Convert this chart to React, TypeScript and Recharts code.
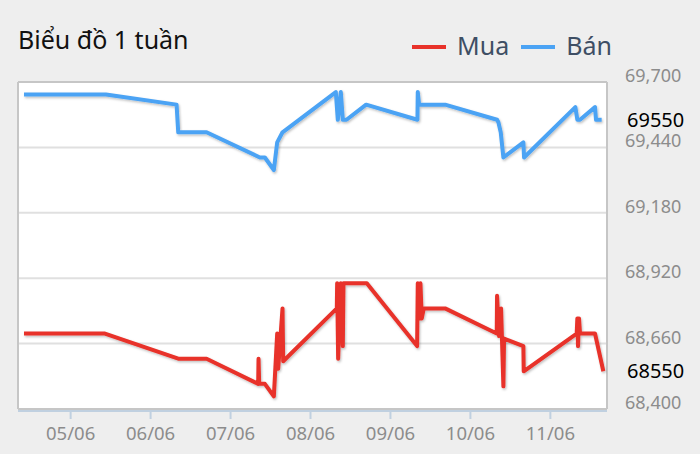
import {
  LineChart,
  Line,
  XAxis,
  YAxis,
  CartesianGrid,
  ReferenceLine,
  Legend,
} from 'recharts';

// time is hours from 05/06 00:00
const dayTicks = [0, 24, 48, 72, 96, 120, 144];
const dayLabels = ['05/06', '06/06', '07/06', '08/06', '09/06', '10/06', '11/06'];
const priceTicks = [68400, 68660, 68920, 69180, 69440, 69700];
const seriesNames = ['Mua', 'Bán'];

const muaTimes = [
  -14.0, 10.3, 32.3, 40.8, 56.3, 56.4, 56.6, 58.3, 61.0, 62.0, 62.3, 63.6, 63.8,
  79.9, 80.0, 80.3, 81.1, 81.7, 81.9, 88.9, 104.0, 104.2, 104.7, 105.0, 105.4,
  106.0, 112.4, 127.9, 128.0, 128.6, 129.2, 129.9, 130.1, 135.9, 136.0, 151.9,
  152.1, 152.3, 152.6, 152.9, 157.4, 159.9,
];
const muaValues = [
  68700, 68700, 68600, 68600, 68500, 68600, 68500, 68500, 68450, 68700, 68560,
  68800, 68590, 68800, 68900, 68600, 68900, 68650, 68900, 68900, 68650, 68900,
  68760, 68900, 68760, 68800, 68800, 68700, 68850, 68690, 68800, 68490, 68680,
  68650, 68550, 68700, 68760, 68650, 68760, 68700, 68700, 68550,
];

const banTimes = [
  -14.0, 10.6, 31.8, 32.3, 40.8, 56.8, 58.3, 61.0, 62.0, 63.6, 79.6, 80.2, 81.1,
  81.7, 82.8, 88.7, 104.1, 104.2, 104.6, 112.4, 128.0, 128.4, 129.1, 129.9,
  135.9, 136.1, 151.5, 152.1, 152.9, 157.4, 157.7, 159.4,
];
const banValues = [
  69650, 69650, 69610, 69500, 69500, 69400, 69400, 69350, 69460, 69500, 69660,
  69550, 69660, 69550, 69550, 69610, 69550, 69660, 69610, 69610, 69550, 69540,
  69500, 69400, 69460, 69400, 69600, 69550, 69550, 69600, 69550, 69550,
];

const muaData = muaTimes.map((t, i) => ({ t, price: muaValues[i] }));
const banData = banTimes.map((t, i) => ({ t, price: banValues[i] }));
const lastMua = muaValues[muaValues.length - 1];
const lastBan = banValues[banValues.length - 1];

const X_MIN = -15.8;
const X_MAX = 161;
const FONT = '"Noto Sans", sans-serif';
const BORDER = '#c6c6c6';
const AXIS = '#c0d0e0';

const YTick = ({ x, y, payload }: any) => (
  <text x={x} y={y} textAnchor="start" fill="#8c8c8c" fontSize={18} fontFamily={FONT}>
    {payload.value.toLocaleString('en-US')}
  </text>
);

const XTick = ({ x, y, payload }: any) => (
  <text x={x} y={y} dy={23} textAnchor="middle" fill="#8c8c8c" fontSize={18.5} fontFamily={FONT}>
    {dayLabels[dayTicks.indexOf(payload.value)]}
  </text>
);

const LegendContent = ({ payload }: any) => {
  const items = [...(payload || [])].sort(
    (a: any, b: any) => seriesNames.indexOf(a.value) - seriesNames.indexOf(b.value),
  );
  return (
    <div style={{ display: 'flex', alignItems: 'center', fontFamily: FONT }}>
      {items.map((entry: any) => (
        <div key={entry.value} style={{ display: 'flex', alignItems: 'center', marginRight: 12 }}>
          <span
            style={{
              display: 'inline-block',
              width: 34,
              height: 4,
              marginTop: 3,
              background: entry.color,
              marginRight: 11,
            }}
          />
          <span style={{ fontSize: 25, lineHeight: '34px', color: '#3e4e64' }}>{entry.value}</span>
        </div>
      ))}
    </div>
  );
};

export default function App() {
  return (
    <div
      style={{
        position: 'absolute',
        left: 0,
        top: 0,
        width: 700,
        height: 454,
        background: '#eeeeee',
        fontFamily: FONT,
      }}
    >
      <div
        style={{
          position: 'absolute',
          left: 18,
          top: 22,
          fontSize: 25,
          lineHeight: '34px',
          color: '#111',
        }}
      >
        Biểu đồ 1 tuần
      </div>
      <LineChart width={700} height={454} margin={{ top: 82, right: 0, bottom: 0, left: 18 }}>
        <defs>
          <filter id="lineShadow" x="-5%" y="-5%" width="110%" height="120%">
            <feDropShadow dx="1" dy="1.5" stdDeviation="1" floodColor="#000" floodOpacity="0.25" />
          </filter>
        </defs>
        <CartesianGrid vertical={false} stroke="#e0e0e0" strokeWidth={2} fill="#ffffff" />
        <XAxis
          type="number"
          dataKey="t"
          domain={[X_MIN, X_MAX]}
          allowDataOverflow
          ticks={dayTicks}
          height={45}
          tickSize={8}
          tickMargin={0}
          axisLine={{ stroke: AXIS, strokeWidth: 2, transform: 'translate(0,2)' }}
          tickLine={{ stroke: AXIS, strokeWidth: 2, transform: 'translate(0,2)' }}
          tick={<XTick />}
        />
        <YAxis
          orientation="right"
          width={93}
          domain={[68400, 69700]}
          ticks={priceTicks}
          axisLine={false}
          tickLine={false}
          tickSize={0}
          tickMargin={18}
          tick={<YTick />}
        />
        <ReferenceLine y={69700} stroke={BORDER} strokeWidth={2} />
        <ReferenceLine y={68400} stroke={BORDER} strokeWidth={2} />
        <ReferenceLine x={X_MIN} stroke={BORDER} strokeWidth={2} />
        <ReferenceLine x={X_MAX} stroke={BORDER} strokeWidth={2} />
        <ReferenceLine
          y={lastBan}
          stroke="none"
          label={{ value: String(lastBan), position: 'right', offset: 20, fill: '#000', fontSize: 20, fontFamily: FONT }}
        />
        <ReferenceLine
          y={lastMua}
          stroke="none"
          label={{ value: String(lastMua), position: 'right', offset: 20, fill: '#000', fontSize: 20, fontFamily: FONT }}
        />
        <Line
          data={muaData}
          dataKey="price"
          name="Mua"
          type="linear"
          stroke="#e8322a"
          strokeWidth={4}
          strokeLinejoin="round"
          dot={false}
          activeDot={false}
          filter="url(#lineShadow)"
          isAnimationActive={false}
        />
        <Line
          data={banData}
          dataKey="price"
          name="Bán"
          type="linear"
          stroke="#4ba3f4"
          strokeWidth={4}
          strokeLinejoin="round"
          dot={false}
          activeDot={false}
          filter="url(#lineShadow)"
          isAnimationActive={false}
        />
        <Legend
          layout="horizontal"
          verticalAlign="middle"
          align="center"
          content={<LegendContent />}
          wrapperStyle={{ top: 28, left: 412, width: 260 }}
        />
      </LineChart>
    </div>
  );
}
